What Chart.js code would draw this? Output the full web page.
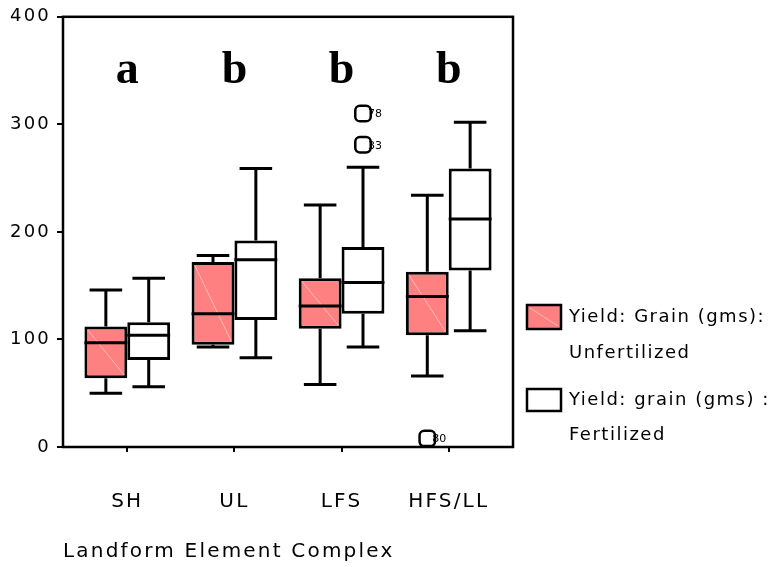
<!DOCTYPE html>
<html><head><meta charset="utf-8">
<script src="https://cdn.jsdelivr.net/npm/chart.js@4/dist/chart.umd.min.js"></script>
<style>html,body{margin:0;padding:0;background:#fff}#wrap{width:773px;height:567px}</style>
</head><body><div id="wrap"><canvas id="c" width="773" height="567"></canvas></div>
<script>
// ---- data ----
const categories = ['SH', 'UL', 'LFS', 'HFS/LL'];
const seriesNames = [['Yield: Grain (gms):', 'Unfertilized'], ['Yield: grain (gms) :', 'Fertilized']];
const unfertMin    = [50, 93, 58, 66];
const unfertQ1     = [64, 95, 110, 104];
const unfertMedian = [97, 124, 131, 140];
const unfertQ3     = [112, 172, 157, 163];
const unfertMax    = [146, 178, 225, 234];
const fertMin      = [56, 83, 93, 108];
const fertQ1       = [81, 118, 124, 164];
const fertMedian   = [104, 174, 153, 212];
const fertQ3       = [116, 192, 186, 259];
const fertMax      = [157, 259, 260, 302];
const outlierCategory = [2, 2, 3];
const outlierSeries   = [1, 1, 0];
const outlierValues   = [310, 281, 8];
const outlierIds      = ['78', '33', '80'];
const groupLetters = ['a', 'b', 'b', 'b'];
const letterLevel = 338;
const yTicks = [0, 100, 200, 300, 400];
const xTitle = 'Landform Element Complex';

// ---- styling ----
const PINK = '#FF8080';
const FONT = 'DejaVu Sans';
const CAT_PCT = 0.8;
const GROUP_OFFSET = CAT_PCT / 4; // centre of each of the two boxes within a category
const stats = [
  {min: unfertMin, q1: unfertQ1, med: unfertMedian, q3: unfertQ3, max: unfertMax},
  {min: fertMin, q1: fertQ1, med: fertMedian, q3: fertQ3, max: fertMax}
];

const spacingPlugin = {
  id: 'spacing',
  beforeUpdate(chart) { chart.ctx.letterSpacing = '2.2px'; },
  beforeDraw(chart) { chart.ctx.letterSpacing = '2.2px'; }
};

const boxPlugin = {
  id: 'boxes',
  afterDatasetsDraw(chart) {
    const ctx = chart.ctx, y = chart.scales.y;
    ctx.save();
    ctx.strokeStyle = '#000';
    [0, 1].forEach(di => {
      const meta = chart.getDatasetMeta(di);
      const s = stats[di];
      meta.data.forEach((el, i) => {
        const x = el.x, w = el.width, half = w / 2, cap = w * 0.38;
        const yq1 = y.getPixelForValue(s.q1[i]), yq3 = y.getPixelForValue(s.q3[i]);
        if (di === 0) {
          ctx.save();
          ctx.strokeStyle = 'rgba(255,255,255,0.45)';
          ctx.lineWidth = 1;
          ctx.beginPath();
          ctx.moveTo(x - half + 3, yq3 + 3); ctx.lineTo(x + half - 3, yq1 - 3);
          ctx.stroke();
          ctx.restore();
        }
        ctx.lineWidth = 3;
        const ym = y.getPixelForValue(s.med[i]);
        ctx.beginPath(); ctx.moveTo(x - half, ym); ctx.lineTo(x + half, ym); ctx.stroke();
        const yhi = y.getPixelForValue(s.max[i]), ylo = y.getPixelForValue(s.min[i]);
        ctx.beginPath();
        ctx.moveTo(x, yq3); ctx.lineTo(x, yhi);
        ctx.moveTo(x - cap, yhi); ctx.lineTo(x + cap, yhi);
        ctx.moveTo(x, yq1); ctx.lineTo(x, ylo);
        ctx.moveTo(x - cap, ylo); ctx.lineTo(x + cap, ylo);
        ctx.stroke();
      });
    });
    // outlier ids
    const om = chart.getDatasetMeta(2);
    ctx.letterSpacing = '0px';
    ctx.fillStyle = '#000';
    ctx.font = '11px "' + FONT + '"';
    ctx.textAlign = 'left';
    ctx.textBaseline = 'middle';
    om.data.forEach((p, k) => { ctx.fillText(outlierIds[k], p.x + 5, p.y + 1); });
    // group letters
    ctx.font = 'bold 46px "Liberation Serif"';
    ctx.textAlign = 'center';
    ctx.textBaseline = 'alphabetic';
    groupLetters.forEach((t, i) => {
      ctx.fillText(t, chart.scales.x.getPixelForValue(i), y.getPixelForValue(letterLevel));
    });
    ctx.restore();
  },
  afterDraw(chart) {
    const ctx = chart.ctx, a = chart.chartArea;
    ctx.save();
    ctx.strokeStyle = '#000';
    ctx.lineWidth = 2.5;
    ctx.strokeRect(a.left, a.top, a.right - a.left, a.bottom - a.top);
    // legend
    const items = [
      {fill: PINK, box: [527, 305, 34, 24], lines: [317, 353]},
      {fill: '#fff', box: [527, 389, 34, 22], lines: [400, 435]}
    ];
    ctx.letterSpacing = '1.5px';
    ctx.font = '18px "' + FONT + '"';
    ctx.textAlign = 'left';
    ctx.textBaseline = 'middle';
    items.forEach((it, k) => {
      const [bx, by, bw, bh] = it.box;
      ctx.fillStyle = it.fill;
      ctx.fillRect(bx, by, bw, bh);
      if (k === 0) {
        ctx.save();
        ctx.strokeStyle = 'rgba(255,255,255,0.45)';
        ctx.lineWidth = 1;
        ctx.beginPath(); ctx.moveTo(bx + 3, by + 3); ctx.lineTo(bx + bw - 3, by + bh - 3); ctx.stroke();
        ctx.restore();
      }
      ctx.lineWidth = 2.5;
      ctx.strokeRect(bx, by, bw, bh);
      ctx.fillStyle = '#000';
      seriesNames[k].forEach((txt, j) => ctx.fillText(txt, 569, it.lines[j]));
    });
    ctx.restore();
  }
};

const boxData = (di) => categories.map((c, i) => ({x: i, y: [stats[di].q1[i], stats[di].q3[i]]}));

new Chart(document.getElementById('c'), {
  type: 'bar',
  data: {
    datasets: [
      {type: 'bar', label: seriesNames[0].join(' '), data: boxData(0), backgroundColor: PINK,
       borderColor: '#000', borderWidth: 3, borderSkipped: false, categoryPercentage: CAT_PCT, barPercentage: 1},
      {type: 'bar', label: seriesNames[1].join(' '), data: boxData(1), backgroundColor: '#fff',
       borderColor: '#000', borderWidth: 3, borderSkipped: false, categoryPercentage: CAT_PCT, barPercentage: 1},
      {type: 'scatter', label: 'outliers',
       data: outlierValues.map((v, k) => ({x: outlierCategory[k] + (outlierSeries[k] === 0 ? -GROUP_OFFSET : GROUP_OFFSET), y: v})),
       pointStyle: 'rectRounded', radius: 9, borderColor: '#000', borderWidth: 2.5, backgroundColor: 'rgba(255,255,255,0)', showLine: false}
    ]
  },
  options: {
    responsive: false, animation: false, devicePixelRatio: 1, events: [],
    layout: {padding: {top: 15, right: 260, bottom: 0, left: 0}},
    plugins: {legend: {display: false}, tooltip: {enabled: false}},
    scales: {
      x: {
        type: 'linear', min: -0.6, max: 3.6, offset: false,
        afterBuildTicks: s => { s.ticks = categories.map((c, i) => ({value: i})); },
        afterFit: s => { s.height = 120; },
        ticks: {callback: (v, i) => categories[i], color: '#000', font: {family: FONT, size: 20}, padding: 38, maxRotation: 0, autoSkip: false},
        grid: {display: true, drawOnChartArea: false, drawTicks: true, tickLength: 5, color: '#000', lineWidth: 2, offset: false},
        border: {display: false},
        title: {display: true, text: xTitle, align: 'start', color: '#000', font: {family: FONT, size: 20}, padding: {top: 0, bottom: 3}}
      },
      y: {
        type: 'linear', min: 0, max: 400,
        afterBuildTicks: s => { s.ticks = yTicks.map(v => ({value: v})); },
        afterFit: s => { s.width = 63; },
        ticks: {color: '#000', font: {family: FONT, size: 18}, padding: 6},
        grid: {display: true, drawOnChartArea: false, drawTicks: true, tickLength: 6, color: '#000', lineWidth: 2},
        border: {display: false}
      }
    }
  },
  plugins: [spacingPlugin, boxPlugin]
});
</script>
</body></html>
